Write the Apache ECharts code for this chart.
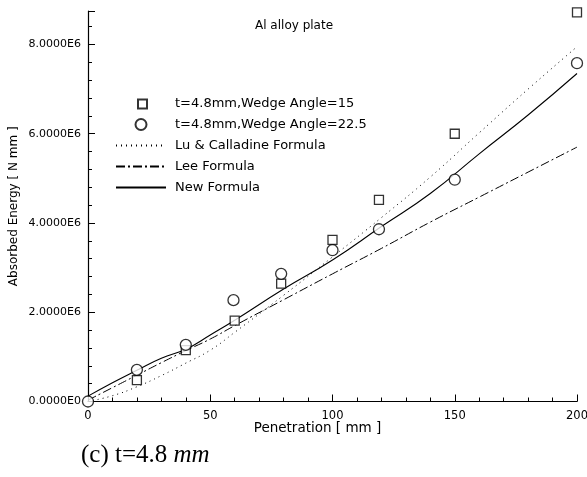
<!DOCTYPE html>
<html>
<head>
<meta charset="utf-8">
<script src="https://cdn.jsdelivr.net/npm/echarts@6/dist/echarts.min.js"></script>
<style>
  html, body { margin: 0; padding: 0; background: #fff; }
  #chart { width: 587px; height: 477px; }
</style>
</head>
<body>
<div id="chart"></div>
<script>
// measured points (penetration in mm, absorbed energy in N mm)
const penAngle15 = [20, 40, 60, 79, 100, 119, 150, 200];
const energyAngle15 = [0.48e6, 1.15e6, 1.81e6, 2.64e6, 3.62e6, 4.52e6, 6.0e6, 8.72e6];

const penAngle225 = [0, 20, 40, 59.5, 79, 100, 119, 150, 200];
const energyAngle225 = [0, 0.71e6, 1.27e6, 2.27e6, 2.86e6, 3.39e6, 3.86e6, 4.97e6, 7.58e6];

// formula curves
const penFormula = [0, 10, 20, 30, 40, 50, 60, 80, 100, 120, 140, 160, 180, 200];
const luCalladine = [0, 0.13e6, 0.33e6, 0.58e6, 0.86e6, 1.15e6, 1.55e6, 2.38e6, 3.24e6, 4.12e6, 5.03e6, 6.02e6, 7.0e6, 7.95e6];
const leeFormula = [0.03e6, 0.31e6, 0.59e6, 0.87e6, 1.14e6, 1.40e6, 1.70e6, 2.28e6, 2.86e6, 3.43e6, 4.02e6, 4.58e6, 5.14e6, 5.70e6];
const newFormula = [0.12e6, 0.42e6, 0.70e6, 0.97e6, 1.17e6, 1.49e6, 1.82e6, 2.52e6, 3.17e6, 3.92e6, 4.66e6, 5.55e6, 6.42e6, 7.35e6];

const seriesNames = [
  't=4.8mm,Wedge Angle=15',
  't=4.8mm,Wedge Angle=22.5',
  'Lu & Calladine Formula',
  'Lee Formula',
  'New Formula'
];

const zip = (xs, ys) => xs.map((x, i) => [x, ys[i]]);

// small square inside a 50x11 box so the legend icon is not stretched
const squareIcon = 'path://M0,0M50,11M22,1.5L31,1.5L31,10.5L22,10.5Z';

const chart = echarts.init(document.getElementById('chart'));
const font = 'DejaVu Sans';

// formula curves: plain line, no dot in the legend
function formulaLine(name, data, lineType, width) {
  return {
    name: name,
    type: 'line',
    symbol: 'circle',
    showSymbol: false,
    smooth: true,
    lineStyle: { color: '#000', width: width, type: lineType },
    itemStyle: { color: 'rgba(0,0,0,0)', borderWidth: 0 },
    data: data
  };
}

const option = {
  backgroundColor: '#fff',
  animation: false,
  title: {
    text: 'Al alloy plate',
    left: 250,
    top: 15,
    textStyle: { fontFamily: font, fontSize: 12, fontWeight: 'normal', color: '#000' }
  },
  legend: {
    orient: 'vertical',
    left: 110,
    top: 92,
    itemWidth: 50,
    itemHeight: 11,
    itemGap: 8,
    data: [
      { name: seriesNames[0], icon: squareIcon },
      { name: seriesNames[1] },
      { name: seriesNames[2] },
      { name: seriesNames[3] },
      { name: seriesNames[4] }
    ],
    textStyle: { fontFamily: font, fontSize: 13, color: '#000', padding: [0, 0, 0, 4] }
  },
  grid: { left: 88, right: 10, top: 11, bottom: 75.5, outerBoundsMode: 'none' },
  xAxis: {
    type: 'value',
    min: 0,
    max: 200,
    interval: 50,
    name: 'Penetration [ mm ]',
    nameLocation: 'middle',
    nameGap: 20,
    nameMoveOverlap: false,
    nameTextStyle: { fontFamily: font, fontSize: 13.5, color: '#000', padding: [0, 30, 0, 0] },
    axisLine: { lineStyle: { color: '#000', width: 1.2 } },
    axisTick: { inside: true, length: 7, lineStyle: { color: '#000' } },
    minorTick: { show: true, splitNumber: 5, length: 4, lineStyle: { color: '#000' } },
    splitLine: { show: false },
    axisLabel: { fontFamily: font, fontSize: 11.5, color: '#000', margin: 9 }
  },
  yAxis: {
    type: 'value',
    min: 0,
    max: 8.75e6,
    interval: 2e6,
    name: 'Absorbed Energy [ N mm ]',
    nameLocation: 'middle',
    nameGap: 68,
    nameMoveOverlap: false,
    nameTextStyle: { fontFamily: font, fontSize: 12, color: '#000' },
    axisLine: { show: true, lineStyle: { color: '#000', width: 1.2 } },
    axisTick: { show: true, inside: true, length: 7, lineStyle: { color: '#000' } },
    minorTick: { show: true, splitNumber: 5, length: 4, lineStyle: { color: '#000' } },
    splitLine: { show: false },
    axisLabel: {
      fontFamily: font,
      fontSize: 11,
      color: '#000',
      margin: 7,
      showMaxLabel: false,
      formatter: v => (v / 1e6).toFixed(4) + 'E' + (v === 0 ? '0' : '6')
    }
  },
  series: [
    {
      name: seriesNames[0],
      type: 'scatter',
      symbol: 'rect',
      symbolSize: 9,
      clip: false,
      z: 5,
      itemStyle: { color: '#fff', borderColor: '#000', borderWidth: 1.3 },
      data: zip(penAngle15, energyAngle15)
    },
    {
      name: seriesNames[1],
      type: 'scatter',
      symbol: 'circle',
      symbolSize: 11,
      clip: false,
      z: 5,
      itemStyle: { color: '#fff', borderColor: '#000', borderWidth: 1.3 },
      data: zip(penAngle225, energyAngle225)
    },
    formulaLine(seriesNames[2], zip(penFormula, luCalladine), [1, 4], 1),
    formulaLine(seriesNames[3], zip(penFormula, leeFormula), [9, 3, 2, 3], 1),
    formulaLine(seriesNames[4], zip(penFormula, newFormula), 'solid', 1.1)
  ],
  graphic: [
    {
      type: 'text',
      left: 81,
      top: 443,
      style: {
        text: '{a|(c) t=4.8 }{b|mm}',
        rich: {
          a: { fontFamily: 'Liberation Serif', fontSize: 25, fill: '#000' },
          b: { fontFamily: 'Liberation Serif', fontSize: 25, fontStyle: 'italic', fill: '#000' }
        }
      }
    }
  ]
};

chart.setOption(option);

window.addEventListener('resize', () => {
  chart.resize();
});
</script>
</body>
</html>
